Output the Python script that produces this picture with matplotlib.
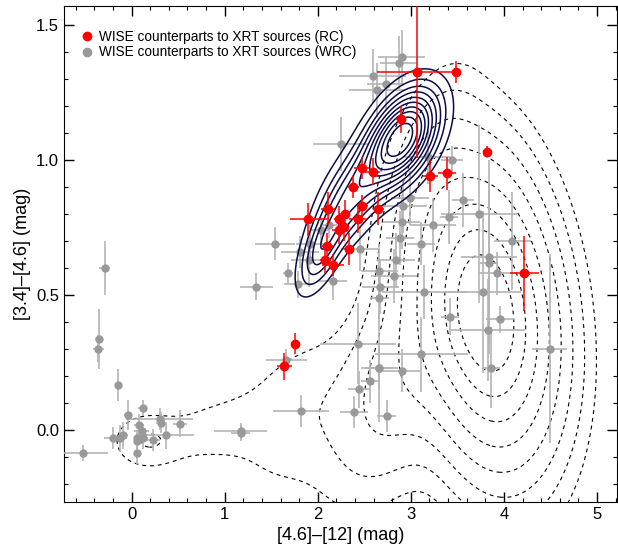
import numpy as np
import matplotlib
matplotlib.use("Agg")
import matplotlib.pyplot as plt
from matplotlib.ticker import MultipleLocator, FormatStrFormatter
from matplotlib.lines import Line2D

plt.rcParams['font.family'] = ['Liberation Sans', 'DejaVu Sans']

# WRC sources (gray): x, y, xerr, yerr
wrc_x = [-0.52, -0.35, -0.36, -0.29, -0.15, -0.20, -0.13, -0.09, -0.04, 0.12, 0.08, 0.11, 0.06, 0.06,
         0.06, 0.12, 0.23, 0.30, 0.31, 0.37, 0.52, 1.17, 1.17, 1.66, 1.82,
         1.54, 1.34, 1.79, 1.68, 1.81, 1.92, 2.03, 2.12, 1.91, 2.16, 2.45, 2.43, 2.56, 2.44, 2.66, 2.39,
         2.74, 2.25,
         2.90, 2.87, 2.59, 2.73, 2.64, 3.18, 3.44,
         2.99, 2.92, 2.90, 3.56, 3.73, 3.24, 2.88, 3.11, 2.84, 2.66, 2.82, 2.67, 2.66, 3.14, 4.09, 3.84,
         3.84, 3.93, 3.78, 3.42, 3.96, 3.83, 4.49, 3.11, 2.90, 2.66, 3.86, 3.41]
wrc_y = [-0.085, 0.337, 0.30, 0.60, 0.167, -0.03, -0.03, -0.02, 0.055, 0.08, 0.02, -0.005, -0.03, -0.04,
         -0.086, -0.03, -0.037, 0.04, 0.027, -0.02, 0.022, -0.004, -0.01, 0.26, 0.07,
         0.69, 0.53, 0.54, 0.58, 0.66, 0.69, 0.74, 0.76, 0.63, 0.55, 0.67, 0.32, 0.18, 0.15, 0.23, 0.067,
         0.052, 1.06,
         1.38, 1.36, 1.31, 1.28, 1.26, 1.01, 1.00,
         0.86, 0.83, 0.77, 0.85, 0.80, 0.76, 0.71, 0.69, 0.63, 0.59, 0.57, 0.53, 0.49, 0.51, 0.70, 0.64,
         0.62, 0.58, 0.51, 0.42, 0.41, 0.37, 0.30, 0.28, 0.22, 0.23, 0.23, 0.79]
wrc_xerr = [0.27, 0.04, 0.06, 0.06, 0.03, 0.10, 0.08, 0.05, 0.04, 0.05, 0.05, 0.08, 0.04, 0.03,
            0.03, 0.06, 0.07, 0.36, 0.05, 0.30, 0.08, 0.28, 0.10, 0.22, 0.30,
            0.22, 0.18, 0.15, 0.05, 0.20, 0.15, 0.10, 0.10, 0.20, 0.15, 0.20, 0.41, 0.10, 0.12, 0.15, 0.15,
            0.10, 0.30,
            0.25, 0.20, 0.36, 0.20, 0.30, 0.25, 0.12,
            0.20, 0.25, 0.20, 0.12, 0.41, 0.25, 0.15, 0.15, 0.20, 0.20, 0.25, 0.20, 0.10, 0.45, 0.20, 0.30,
            0.10, 0.20, 0.40, 0.10, 0.15, 0.40, 0.19, 0.50, 0.20, 0.20, 0.10, 0.10]
wrc_yerr = [0.03, 0.11, 0.05, 0.10, 0.06, 0.04, 0.05, 0.05, 0.055, 0.03, 0.04, 0.03, 0.03, 0.03,
            0.04, 0.04, 0.04, 0.04, 0.04, 0.05, 0.05, 0.03, 0.03, 0.04, 0.06,
            0.06, 0.05, 0.05, 0.04, 0.06, 0.07, 0.05, 0.05, 0.10, 0.07, 0.08, 0.15, 0.08, 0.07, 0.08, 0.06,
            0.06, 0.10,
            0.10, 0.10, 0.10, 0.10, 0.10, 0.10, 0.05,
            0.10, 0.10, 0.10, 0.10, 0.33, 0.10, 0.10, 0.08, 0.10, 0.10, 0.10, 0.10, 0.08, 0.10, 0.18, 0.36,
            0.30, 0.08, 0.30, 0.07, 0.05, 0.19, 0.35, 0.14, 0.08, 0.20, 0.15, 0.10]

# RC sources (red)
rc_x = [3.07, 3.49, 2.89, 2.59, 2.47, 3.21, 3.39, 3.82, 2.38, 2.48, 2.11, 2.29, 2.65, 1.90, 2.23,
        2.43, 2.28, 2.23, 2.10, 2.33, 2.08, 2.16, 1.75, 1.64, 4.22]
rc_y = [1.326, 1.326, 1.15, 0.956, 0.97, 0.94, 0.95, 1.03, 0.90, 0.83, 0.82, 0.80, 0.82, 0.78, 0.78,
        0.78, 0.75, 0.74, 0.68, 0.67, 0.63, 0.61, 0.32, 0.235, 0.58]
rc_xerr = [0.43, 0.05, 0.06, 0.08, 0.08, 0.08, 0.10, 0.03, 0.06, 0.06, 0.08, 0.06, 0.06, 0.20, 0.06,
           0.10, 0.06, 0.08, 0.06, 0.05, 0.06, 0.12, 0.04, 0.08, 0.16]
rc_yerr = [0.32, 0.04, 0.05, 0.05, 0.04, 0.06, 0.06, 0.02, 0.04, 0.04, 0.06, 0.05, 0.06, 0.06, 0.05,
           0.05, 0.05, 0.05, 0.05, 0.06, 0.05, 0.04, 0.04, 0.05, 0.14]

# blazar strip density (solid): mx, my, sx, sy, rho, weight
strip_comp = [(2.90, 1.08, 0.25, 0.115, 0.45, 1.00),
              (2.35, 0.86, 0.24, 0.120, 0.55, 0.40),
              (2.03, 0.66, 0.16, 0.100, 0.60, 0.32)]
strip_levels = [0.08, 0.16, 0.24, 0.32, 0.41, 0.50, 0.59, 0.68, 0.78, 0.88]

# background WISE sources density (dashed)
bg_comp = [(3.82, 0.43, 0.42, 0.31, -0.20, 1.00),
           (3.15, 0.85, 0.30, 0.25, 0.50, 0.07),
           (2.90, 0.20, 0.45, 0.26, 0.50, 0.12),
           (1.75, 0.06, 0.45, 0.20, 0.30, 0.035),
           (0.85, 0.00, 0.40, 0.08, 0.30, 0.03),
           (0.15, -0.04, 0.25, 0.07, 0.00, 0.04)]
bg_levels = [0.0198, 0.044, 0.089, 0.164, 0.278, 0.430, 0.607, 0.783]


def gauss_mix(X, Y, comps):
    Z = np.zeros_like(X)
    for mx, my, sx, sy, rho, w in comps:
        dx = (X - mx) / sx
        dy = (Y - my) / sy
        Z += w * np.exp(-0.5 * (dx**2 - 2 * rho * dx * dy + dy**2) / (1 - rho**2))
    return Z / Z.max()


fig = plt.figure(figsize=(6.18, 5.56), dpi=100)
ax = fig.add_axes([64 / 618, 1 - 502 / 556, (617 - 64) / 618, (502 - 6) / 556])

X, Y = np.meshgrid(np.linspace(-0.8, 5.3, 500), np.linspace(-0.5, 1.7, 500))
ax.contour(X, Y, gauss_mix(X, Y, bg_comp), levels=bg_levels, colors='black',
           linestyles=[(0, (3.5, 3.5))], linewidths=0.8, zorder=2)

ax.errorbar(wrc_x, wrc_y, xerr=wrc_xerr, yerr=wrc_yerr, fmt='o', color='#999999', ecolor='#b4b4b4',
            elinewidth=1.2, markersize=5, capsize=0, zorder=3)
ax.errorbar(rc_x, rc_y, xerr=rc_xerr, yerr=rc_yerr, fmt='o', color='red', ecolor='red',
            elinewidth=1.1, markersize=6, capsize=0, zorder=5)

ax.contour(X, Y, gauss_mix(X, Y, strip_comp), levels=strip_levels, colors='#0c0c48',
           linewidths=1.1, zorder=4)

ax.set_xlim(-0.727, 5.215)
ax.set_ylim(-0.267, 1.570)
ax.xaxis.set_major_locator(MultipleLocator(1))
ax.xaxis.set_minor_locator(MultipleLocator(0.2))
ax.yaxis.set_major_locator(MultipleLocator(0.5))
ax.yaxis.set_minor_locator(MultipleLocator(0.1))
ax.yaxis.set_major_formatter(FormatStrFormatter('%.1f'))
ax.tick_params(which='both', direction='in', top=True, right=True, labelsize=12)
ax.tick_params(which='major', length=7, width=1)
ax.tick_params(which='minor', length=3, width=0.8)
ax.set_xlabel('[4.6]\u2013[12] (mag)', fontsize=13)
ax.set_ylabel('[3.4]\u2013[4.6] (mag)', fontsize=13)

handles = [Line2D([], [], marker='o', color='red', ls='', markersize=6),
           Line2D([], [], marker='o', color='#999999', ls='', markersize=6)]
ax.legend(handles, ['WISE counterparts to XRT sources (RC)', 'WISE counterparts to XRT sources (WRC)'],
          loc='upper left', bbox_to_anchor=(0.0, 0.985), frameon=False, fontsize=9.8,
          handletextpad=0.35, labelspacing=0.12, borderaxespad=0.8, handlelength=1)

fig.savefig('out.png', dpi=100)
